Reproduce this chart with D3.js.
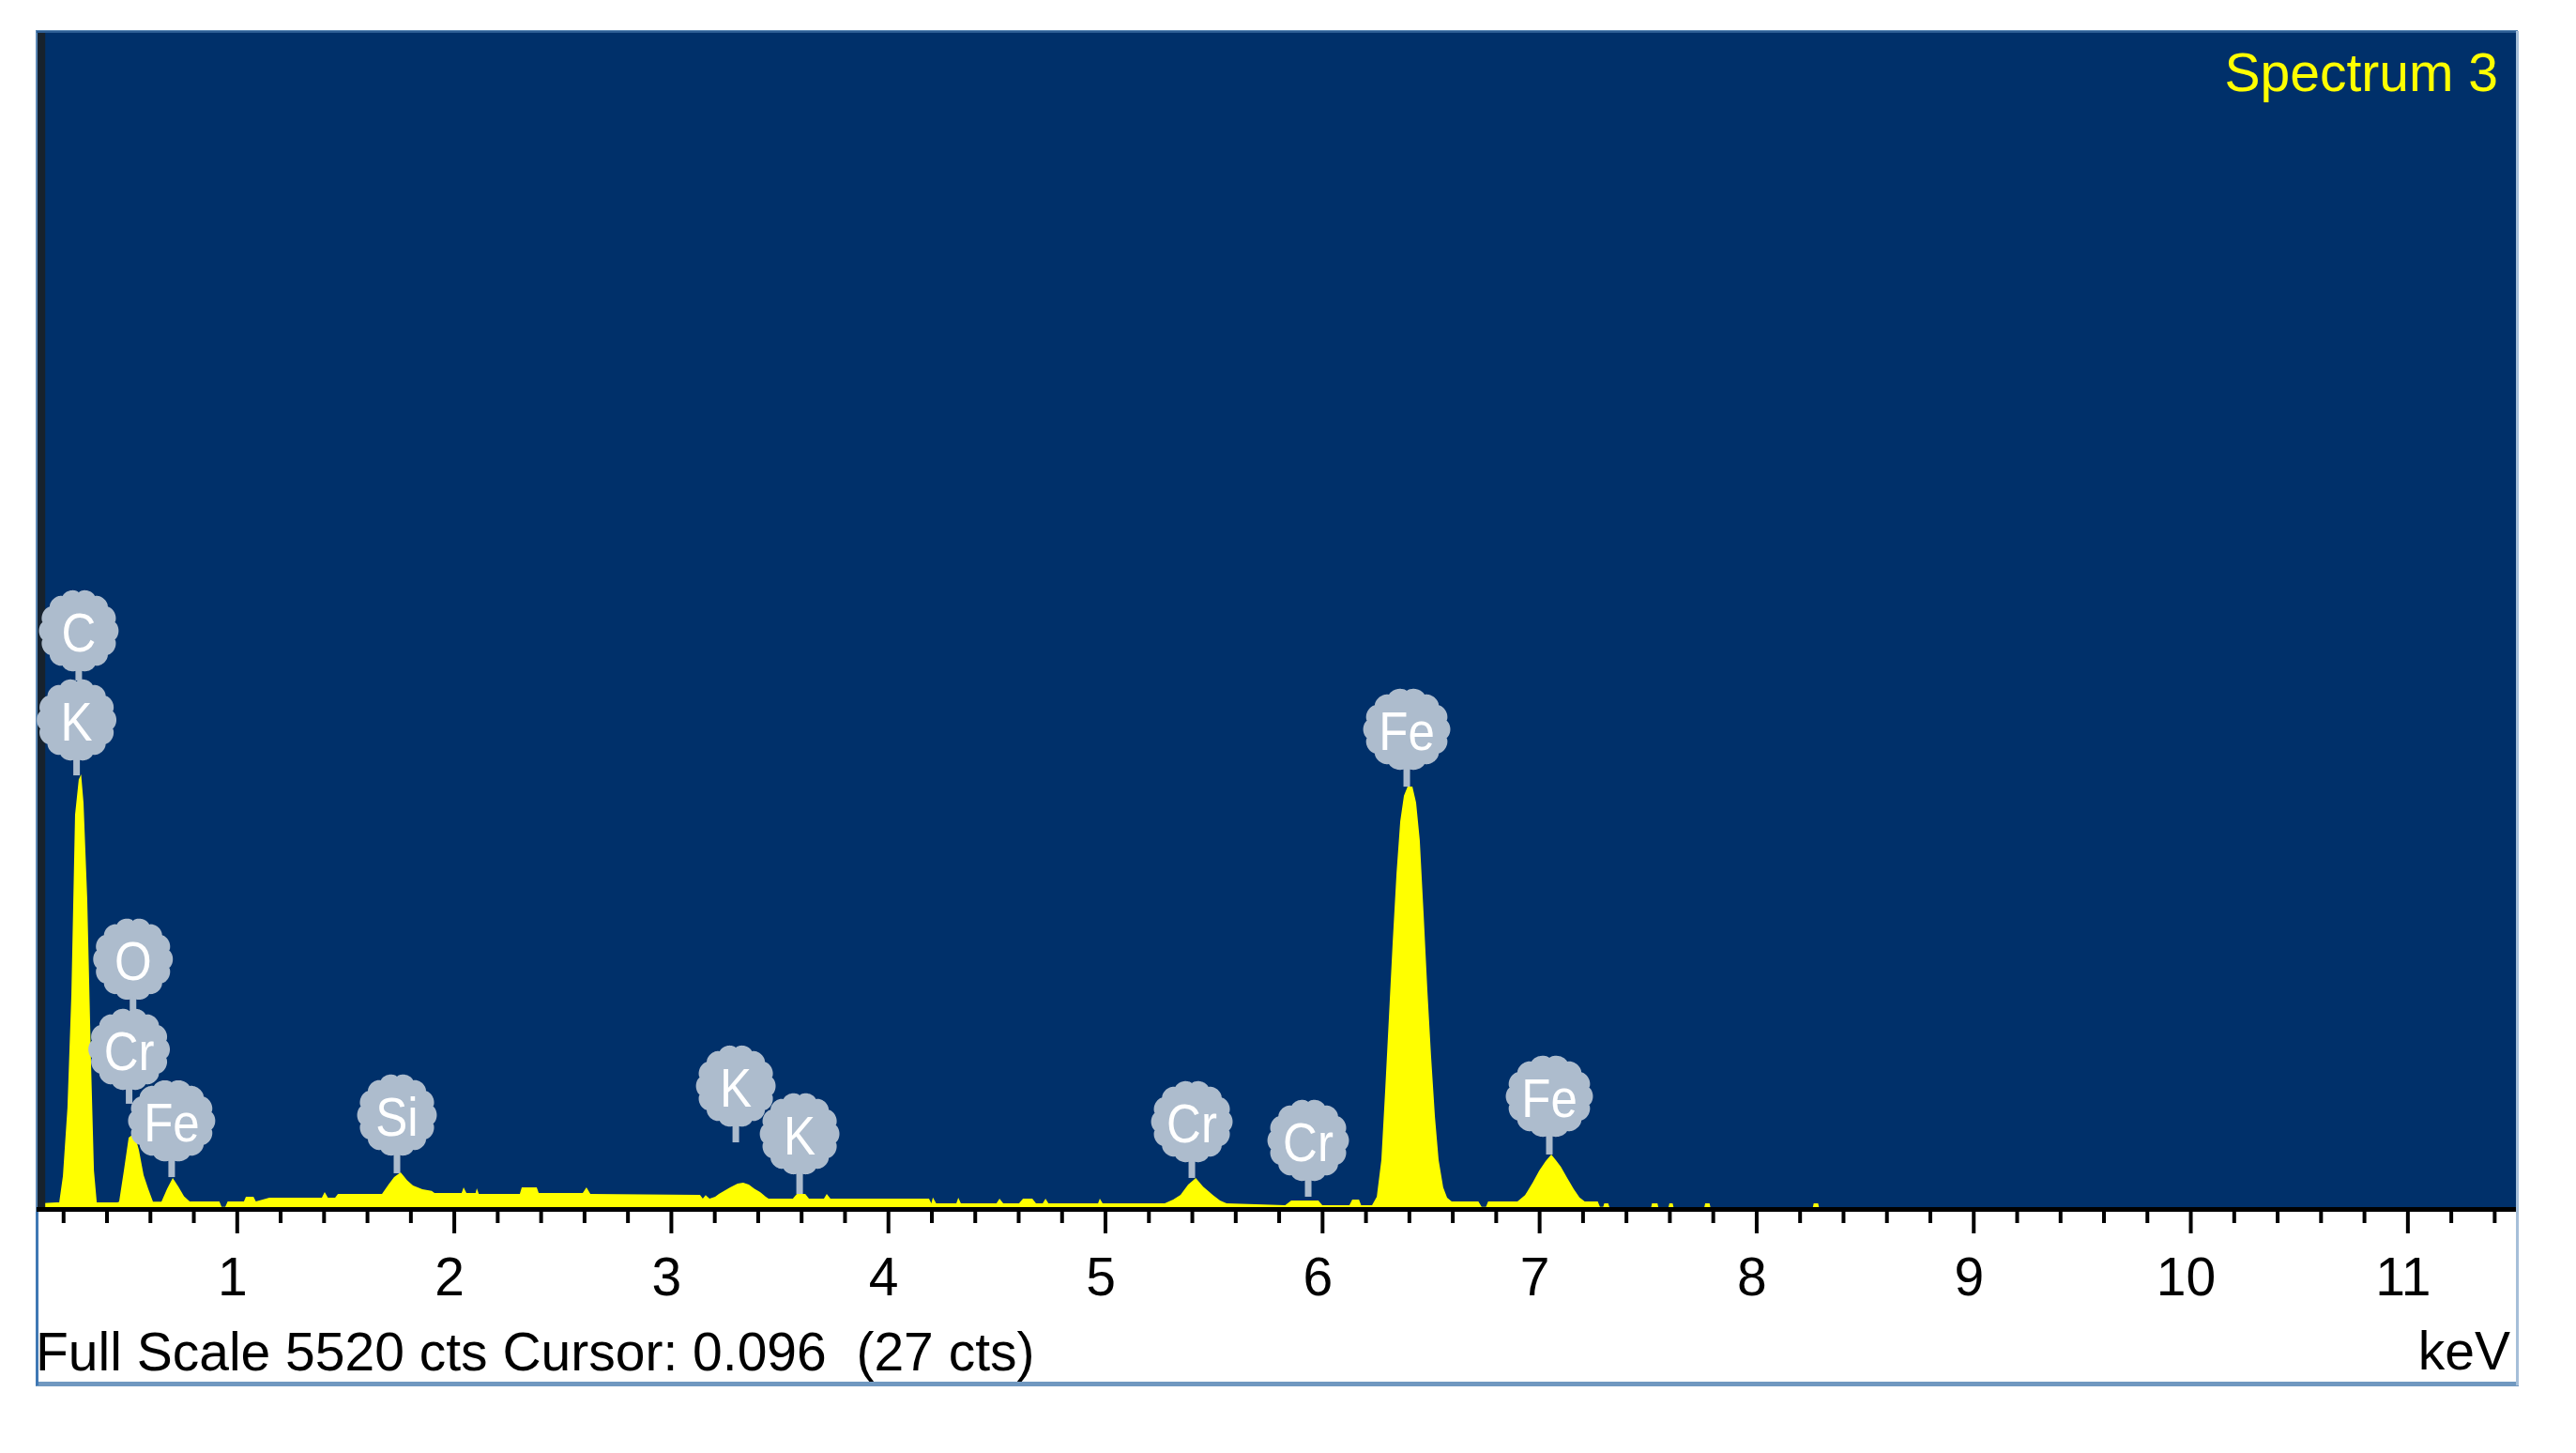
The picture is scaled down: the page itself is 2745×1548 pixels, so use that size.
<!DOCTYPE html>
<html>
<head>
<meta charset="utf-8">
<script src="https://cdn.jsdelivr.net/npm/d3@7"></script>
<style>
html,body{margin:0;padding:0;background:#ffffff;}
svg{display:block;}
</style>
</head>
<body>
<svg id="chart" width="2745" height="1548"></svg>
<script>
// ---------------- DATA ----------------
const energyKeV = [
  0.090,0.170,0.182,0.199,0.220,0.238,0.255,0.272,0.283,0.294,0.311,0.329,0.342,0.355,
  0.450,0.458,0.480,0.502,0.519,0.532,0.549,0.571,0.592,0.614,
  0.653,0.679,0.705,0.731,0.757,0.783,
  0.920,0.930,0.947,0.958,1.033,1.042,1.077,1.088,1.150,1.392,1.405,1.420,1.453,1.466,1.669,
  1.699,1.725,1.755,1.785,1.812,1.855,1.898,1.911,
  2.036,2.045,2.058,2.100,2.106,2.115,2.304,2.313,2.382,2.391,2.594,2.611,2.629,
  3.134,3.147,3.160,3.178,3.204,
  3.221,3.273,3.307,3.333,3.359,3.385,3.411,3.437,3.450,
  3.562,3.580,3.619,3.636,3.705,3.718,3.735,
  4.189,4.200,4.207,4.222,4.315,4.324,4.336,4.500,4.514,4.531,
  4.604,4.622,4.665,4.682,4.713,4.726,4.739,4.968,4.976,4.989,
  5.275,5.314,5.348,5.383,5.418,5.452,5.496,5.530,5.560,
  5.830,5.858,5.983,6.001,6.126,6.139,6.170,6.180,
  6.230,6.252,6.273,6.291,6.308,6.325,6.343,6.360,6.377,6.394,6.416,6.433,6.450,6.468,
  6.485,6.502,6.520,6.537,6.558,6.576,6.597,
  6.720,6.735,6.755,6.765,6.900,
  6.935,6.970,7.000,7.030,7.056,7.077,7.100,7.130,7.160,7.186,7.210,
  7.270,7.280,7.295,7.300,7.318,7.325,
  7.515,7.520,7.545,7.550,7.595,7.600,7.615,7.620,7.760,7.765,7.785,7.790,
  8.260,8.265,8.285,8.290,11.500
];
const countsCts = [
  22,26,26,150,471,1000,1844,2010,2034,1900,1453,665,176,26,
  26,30,176,330,343,335,273,154,90,30,
  30,90,141,100,55,31,
  31,5,5,31,31,53,53,31,48,48,75,48,48,66,66,
  110,145,167,130,106,88,80,70,
  70,97,70,70,92,66,66,97,97,70,70,97,66,
  62,44,60,44,53,
  66,97,115,119,110,90,75,53,44,
  44,66,66,44,44,66,44,
  44,22,50,22,22,48,22,22,44,22,
  22,44,44,22,22,44,22,22,44,22,
  22,40,62,110,141,100,62,35,22,
  13,35,35,13,13,40,40,13,
  13,53,225,559,898,1241,1572,1814,1933,1976,1976,1902,1726,1373,
  1021,713,427,225,97,48,31,
  31,5,5,31,31,
  60,119,175,220,251,225,194,140,88,50,31,
  31,5,5,22,22,0,
  0,22,22,0,0,22,22,0,0,22,22,0,
  0,22,22,0,0
];
const majorTicks = [1,2,3,4,5,6,7,8,9,10,11];

// peak identification balloons
const labelElements  = ["C","K","O","Cr","Fe","Si","K","K","Cr","Cr","Fe","Fe"];
const labelKeV       = [0.272,0.262,0.522,0.504,0.700,1.738,3.299,3.593,5.400,5.936,6.390,7.047];
const labelCenterCts = [2707,2289,1167,744,409,436,572,348,405,317,2245,524];
const labelStemCts   = [2474,2029,929,489,145,163,308,66,141,53,1976,251];

const fullScale = 5520;
const cursorKeV = 0.096;
const cursorCts = 27;
const titleText = "Spectrum 3";
const unitText = "keV";

// ---------------- LAYOUT ----------------
const FONT = "'Liberation Sans', Arial, 'Noto Sans', sans-serif";
const svg = d3.select("#chart");
const L = 39, T = 33, R = 2681, AX = 1287, B = 1476;

const x = d3.scaleLinear().domain([0, 11.5]).range([21, 2681]);
const y = d3.scaleLinear().domain([0, fullScale]).range([AX, T]);

svg.append("rect").attr("x",0).attr("y",0).attr("width",2745).attr("height",1548).attr("fill","#ffffff");

// outer frame
svg.append("rect").attr("x",L).attr("y",T).attr("width",R-L+1).attr("height",B-T)
  .attr("fill","#ffffff").attr("stroke","#5d89b6").attr("stroke-width",2);

// plot background
svg.append("rect").attr("x",L+1).attr("y",T).attr("width",R-L-1).attr("height",AX-T)
  .attr("fill","#00306a");
svg.append("rect").attr("x",L).attr("y",T).attr("width",R-L).attr("height",2).attr("fill","#2c5d94");

const defs = svg.append("defs");
defs.append("clipPath").attr("id","plotclip").append("rect")
  .attr("x",L+1).attr("y",T).attr("width",R-L-1).attr("height",AX-T+1);

// spectrum
const spectrum = energyKeV.map((e,i)=>[e, countsCts[i]]);
const area = d3.area()
  .x(d=>x(d[0]))
  .y0(y(0))
  .y1(d=>y(d[1]))
  .curve(d3.curveLinear);
svg.append("g").attr("clip-path","url(#plotclip)")
  .append("path").datum(spectrum).attr("d",area).attr("fill","#ffff00");

// cursor
svg.append("rect").attr("x",x(cursorKeV)-3).attr("y",T+2).attr("width",8).attr("height",AX-T-2)
  .attr("fill","#17222d");

// axis line
svg.append("rect").attr("x",L).attr("y",AX-1).attr("width",R-L).attr("height",5).attr("fill","#000000");

// minor ticks
const minorTicks = d3.range(1, 58).map(i=>i/5).filter(v=>Math.abs(v-Math.round(v))>1e-6 && v<11.5);
const minorAxis = d3.axisBottom(x).tickValues(minorTicks).tickSize(14).tickFormat("");
const gMinor = svg.append("g").attr("transform",`translate(0,${AX+2})`).call(minorAxis);
gMinor.select(".domain").remove();
gMinor.selectAll(".tick line").attr("stroke","#000").attr("stroke-width",4);

// major ticks
const majorAxis = d3.axisBottom(x).tickValues(majorTicks).tickSize(25).tickPadding(26)
  .tickFormat(d3.format("d"));
const gMajor = svg.append("g").attr("transform",`translate(0,${AX+2})`).call(majorAxis);
gMajor.select(".domain").remove();
gMajor.selectAll(".tick line").attr("stroke","#000").attr("stroke-width",4);
gMajor.selectAll(".tick text").attr("fill","#000").attr("font-family",FONT)
  .attr("font-size",57).attr("dx",-5);

// frame borders
svg.append("rect").attr("x",L).attr("y",B-4).attr("width",R-L+3).attr("height",5).attr("fill","#7098c0");
svg.append("rect").attr("x",R).attr("y",T).attr("width",3).attr("height",B-T).attr("fill","#a6bfd9");
svg.append("rect").attr("x",L-1).attr("y",AX+4).attr("width",3).attr("height",B-AX-4).attr("fill","#3f78b4");

// texts
svg.append("text").attr("x",R-19).attr("y",97).attr("text-anchor","end")
  .attr("font-family",FONT).attr("font-size",57).attr("fill","#ffff00").text(titleText);

svg.append("text").attr("x",L-1).attr("y",1460)
  .attr("font-family",FONT).attr("font-size",57).attr("fill","#000")
  .style("white-space","pre")
  .text(`Full Scale ${fullScale} cts Cursor: ${cursorKeV.toFixed(3)}  (${cursorCts} cts)`);

svg.append("text").attr("x",R-6).attr("y",1459).attr("text-anchor","end")
  .attr("font-family",FONT).attr("font-size",57).attr("fill","#000").text(unitText);

// balloons
const BAL = "#adbccd";
function balloonPath(rx, ry){
  const pts = [];
  const n = 360;
  for(let i=0;i<n;i++){
    const t = i/n*2*Math.PI;
    const bump = 3.2*(Math.pow(Math.abs(Math.cos(7*t)),0.6) - 0.55);
    pts.push([(rx+bump)*Math.cos(t), (ry+bump)*Math.sin(t)]);
  }
  return d3.line().curve(d3.curveLinearClosed)(pts);
}
const gLab = svg.append("g");
labelElements.forEach((el,i)=>{
  const cx = x(labelKeV[i]);
  const cy = y(labelCenterCts[i]);
  const tw = el.length===1 ? 36 : (el==="Fe" ? 60 : (el==="Cr" ? 54 : 45));
  const rx = Math.max(41, tw/2 + 15);
  const ry = 42.5;
  const g = gLab.append("g").attr("transform",`translate(${cx},${cy})`);
  const yEnd = y(labelStemCts[i]) - cy;
  g.append("rect").attr("x",-3.5).attr("y",ry-4).attr("width",7).attr("height",Math.max(0,yEnd-ry+4)).attr("fill",BAL);
  g.append("path").attr("d",balloonPath(rx,ry)).attr("fill",BAL);
  g.append("text").attr("text-anchor","middle").attr("y",22)
    .attr("transform","scale(0.88,1)")
    .attr("font-family",FONT).attr("font-size",58).attr("fill","#ffffff").text(el);
});
</script>
</body>
</html>
